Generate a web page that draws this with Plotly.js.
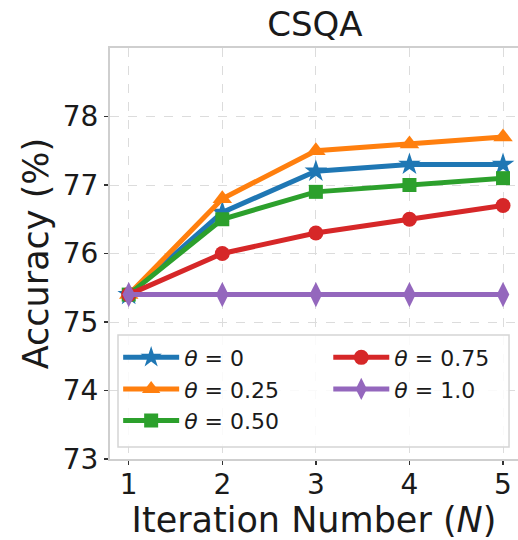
<!DOCTYPE html>
<html>
<head>
<meta charset="utf-8">
<script src="https://cdn.plot.ly/plotly-3.0.1.min.js"></script>
<style>html,body{margin:0;padding:0;background:#fff;}#chart{width:518px;height:540px;}</style>
</head>
<body>
<div id="chart"></div>
<script>
const iterations = [1, 2, 3, 4, 5];
const theta0   = [75.4, 76.6, 77.2, 77.3, 77.3];
const theta025 = [75.4, 76.8, 77.5, 77.6, 77.7];
const theta050 = [75.4, 76.5, 76.9, 77.0, 77.1];
const theta075 = [75.4, 76.0, 76.3, 76.5, 76.7];
const theta100 = [75.4, 75.4, 75.4, 75.4, 75.4];
const seriesNames = ['<i>θ</i> = 0', '<i>θ</i> = 0.25', '<i>θ</i> = 0.50', '<i>θ</i> = 0.75', '<i>θ</i> = 1.0'];
const yTicks = [73, 74, 75, 76, 77, 78];
const xTicks = [1, 2, 3, 4, 5];

const styles = [
  {color: '#1f77b4', symbol: 'star', size: 17, legend: 'legend'},
  {color: '#ff7f0e', symbol: 'triangle-up', size: 17, legend: 'legend'},
  {color: '#2ca02c', symbol: 'square', size: 14, legend: 'legend'},
  {color: '#d62728', symbol: 'circle', size: 15, legend: 'legend2'},
  {color: '#9467bd', symbol: 'diamond-tall', size: 18, legend: 'legend2'}
];
const allSeries = [theta0, theta025, theta050, theta075, theta100];

const traces = allSeries.map((ys, i) => ({
  x: iterations, y: ys, name: seriesNames[i], type: 'scatter', mode: 'lines+markers',
  line: {color: styles[i].color, width: 5},
  marker: {color: styles[i].color, symbol: styles[i].symbol, size: styles[i].size},
  legend: styles[i].legend, legendgroup: 'g' + i
}));

const gridCol = '#dcdcdc';
const legendCommon = {
  orientation: 'v', yanchor: 'top', xanchor: 'left',
  font: {size: 22, color: '#1a1a1a'},
  bgcolor: 'rgba(0,0,0,0)', borderwidth: 0,
  tracegroupgap: 4, traceorder: 'normal', itemwidth: 56
};
const layout = {
  width: 518, height: 540,
  margin: {l: 110, r: 0, t: 48, b: 81},
  paper_bgcolor: '#fff', plot_bgcolor: '#fff',
  font: {family: 'DejaVu Sans', color: '#1a1a1a'},
  title: {text: 'CSQA', font: {size: 34, color: '#1a1a1a'}, x: 0.608, xanchor: 'center', y: 0.955, yanchor: 'middle'},
  xaxis: {
    range: [0.8, 5.16], tickvals: xTicks, ticktext: xTicks.map(String),
    tickfont: {size: 28}, ticks: 'outside', ticklen: 4, tickcolor: '#333', tickwidth: 1.5,
    ticklabelstandoff: -5,
    showgrid: true, gridcolor: gridCol, griddash: 'dash', gridwidth: 1,
    showline: true, linecolor: '#cfcfcf', linewidth: 2, mirror: true, zeroline: false,
    title: {text: 'Iteration Number (<i>N</i>)', font: {size: 35}, standoff: 6}
  },
  yaxis: {
    range: [73, 79], tickvals: yTicks, ticktext: yTicks.map(String),
    tickfont: {size: 28}, ticks: 'outside', ticklen: 4, tickcolor: '#333', tickwidth: 1.5,
    showgrid: true, gridcolor: gridCol, griddash: 'dash', gridwidth: 1,
    showline: true, linecolor: '#cfcfcf', linewidth: 2, mirror: true, zeroline: false,
    title: {text: 'Accuracy (%)', font: {size: 35}, standoff: 4}
  },
  legend: Object.assign({}, legendCommon, {x: 0.02, y: 0.298}),
  legend2: Object.assign({}, legendCommon, {x: 0.535, y: 0.298}),
  shapes: [{
    type: 'rect', xref: 'paper', yref: 'paper', layer: 'above',
    x0: 0.0196, x1: 0.978, y0: 0.029, y1: 0.3017,
    fillcolor: 'rgba(255,255,255,0.85)', line: {color: '#d5d5d5', width: 1.5}
  }],
  showlegend: true
};

Plotly.newPlot('chart', traces, layout, {staticPlot: true, displayModeBar: false});
</script>
</body>
</html>
